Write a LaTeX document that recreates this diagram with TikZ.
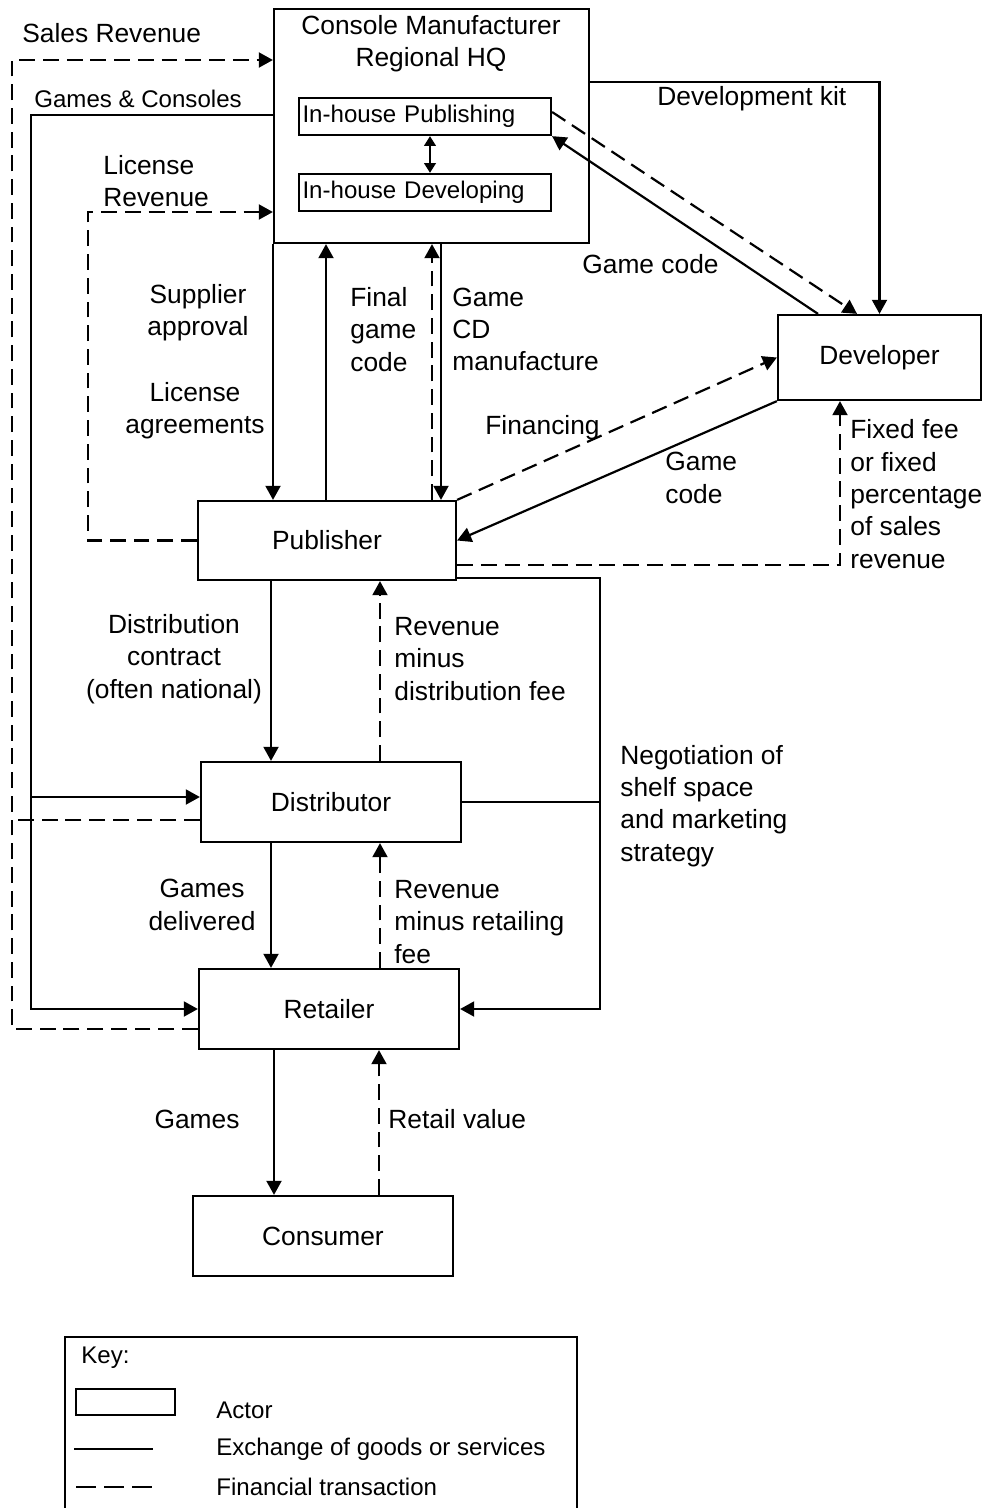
\documentclass[tikz,border=0pt]{standalone}
\usepackage{fontspec}
\setmainfont{Liberation Sans}
\usetikzlibrary{arrows.meta}
\newcommand\lblfont{\fontsize{15}{18.4}\selectfont}
\newcommand\smallfont{\fontsize{13.7}{16.5}\selectfont}
\tikzset{actor/.style={draw,line width=1.3pt,inner sep=0,font=\lblfont},lbl/.style={font=\lblfont,inner sep=0},smalllbl/.style={font=\smallfont,inner sep=0},goods/.style={line width=1.25pt},money/.style={goods,dash pattern=on 9pt off 4.5pt},arrowed/.style={-{Triangle[length=8pt,width=8.5pt]}}}

\begin{document}
\begin{tikzpicture}[x=.02cm,y=-.02cm]
\useasboundingbox (0,0) rectangle (988,1508);
\node[actor,minimum width=6.3cm,minimum height=4.68cm] (hq) at (431.5,126) {};
\node[lbl,align=center] (hqtitle) at (431,44) {Console Manufacturer\\Regional HQ};
\node[actor,font=\smallfont,text width=4.9cm,align=left,inner xsep=.07cm,minimum height=.74cm] (hqpub) at (425,116.5) {In-house Publishing};
\node[actor,font=\smallfont,text width=4.9cm,align=left,inner xsep=.07cm,minimum height=.74cm] (hqdev) at (425,192.5) {In-house Developing};
\node[actor,minimum width=4.06cm,minimum height=1.7cm] (dev) at (879.5,357.5) {Developer};
\node[actor,minimum width=5.16cm,minimum height=1.58cm] (pub) at (327,540.5) {Publisher};
\node[actor,minimum width=5.2cm,minimum height=1.6cm] (dist) at (331,802) {Distributor};
\node[actor,minimum width=5.2cm,minimum height=1.6cm] (ret) at (329,1009) {Retailer};
\node[actor,minimum width=5.2cm,minimum height=1.6cm] (cons) at (323,1236) {Consumer};
\coordinate (srail) at (12,60);
\coordinate (grail) at (31,115);
\coordinate (lrail) at (88,212);
\coordinate (nrail) at (600,578);
\node[lbl,anchor=west] (lblsales) at (22,33) {Sales Revenue};
\node[smalllbl,anchor=west] (lblgc) at (34,99) {Games \& Consoles};
\node[lbl,anchor=west,align=left] (lbllic) at (103,181) {License\\Revenue};
\node[lbl,anchor=west] (lbldk) at (657,99) {Development kit};
\node[lbl,anchor=west] (lblgcode) at (582,264) {Game code};
\node[lbl,align=center] (lblsup) at (198,313) {Supplier\\approval};
\node[lbl,align=center] (lbllag) at (195,411) {License\\agreements};
\node[lbl,anchor=west,align=left] (lblfinal) at (350,329.5) {Final\\game\\code};
\node[lbl,anchor=west,align=left] (lblcd) at (452,329.5) {Game\\CD\\manufacture};
\node[lbl,anchor=west] (lblfin) at (485,428) {Financing};
\node[lbl,anchor=west,align=left] (lblgcode2) at (665,478) {Game\\code};
\node[lbl,anchor=west,align=left] (lblfee) at (850,494) {Fixed fee\\or fixed\\percentage\\of sales\\revenue};
\node[lbl,align=center] (lbldc) at (174,659) {Distribution\\contract\\(often national)};
\node[lbl,anchor=west,align=left] (lblrev1) at (394,659) {Revenue\\minus\\distribution fee};
\node[lbl,anchor=west,align=left] (lblneg) at (620,806) {Negotiation of\\shelf space\\and marketing\\strategy};
\node[lbl,align=center] (lblgd) at (202,905) {Games\\delivered};
\node[lbl,anchor=west,align=left] (lblrev2) at (394,922) {Revenue\\minus retailing\\fee};
\node[lbl] (lblgames) at (197,1119) {Games};
\node[lbl,anchor=west] (lblretail) at (388,1119) {Retail value};
\draw[money,arrowed] (ret.west |- 0,1029) -| (srail) -- (hq.west |- srail);
\draw[money] (dist.west |- 0,820) -- (srail |- 0,820);
\draw[goods,arrowed] (hq.west |- grail) -- (grail) |- (ret.west);
\draw[goods,arrowed] (grail |- 0,797) -- (dist.west |- 0,797);
\draw[money,arrowed] (pub.west) -| (lrail) -- (hq.west |- lrail);
\draw[goods,{Triangle[length=5.5pt,width=6.5pt]}-{Triangle[length=5.5pt,width=6.5pt]}] (hqpub.south -| 430,0) -- (hqdev.north -| 430,0);
\draw[goods,arrowed] (hq.east |- 0,82) -| (dev.north);
\draw[goods,arrowed] (dev.north -| 818,0) -- (hqpub.south east);
\draw[money,arrowed] (hqpub.east |- 0,112) -- (dev.north -| 857,0);
\draw[goods,arrowed] (hq.south -| 273,0) -- (pub.north -| 273,0);
\draw[goods,arrowed] (pub.north -| 326,0) -- (hq.south -| 326,0);
\draw[money,arrowed] (pub.north -| 432,0) -- (hq.south -| 432,0);
\draw[goods,arrowed] (hq.south -| 441,0) -- (pub.north -| 441,0);
\draw[money,arrowed] (pub.north east) -- (dev.west);
\draw[goods,arrowed] (dev.south west) -- (pub.east);
\draw[money,arrowed] (pub.east |- 0,565) -| (dev.south -| 840,0);
\draw[goods,arrowed] (pub.east |- nrail) -- (nrail) |- (ret.east);
\draw[goods] (dist.east) -- (nrail |- dist.east);
\draw[goods,arrowed] (pub.south -| 271,0) -- (dist.north -| 271,0);
\draw[money,arrowed] (dist.north -| 380,0) -- (pub.south -| 380,0);
\draw[goods,arrowed] (dist.south -| 271,0) -- (ret.north -| 271,0);
\draw[money,arrowed] (ret.north -| 380,0) -- (dist.south -| 380,0);
\draw[goods,arrowed] (ret.south -| 274,0) -- (cons.north -| 274,0);
\draw[money,arrowed] (cons.north -| 379,0) -- (ret.south -| 379,0);
\draw[goods] (65,1508) |- (577,1337) -- (577,1508);
\node[smalllbl,anchor=west] (keyhd) at (81,1358) {Key:};
\node[actor,minimum width=1.98cm,minimum height=.52cm] (keyactor) at (125.5,1402) {};
\node[smalllbl,anchor=west] (keyactortxt) at (216,1410) {Actor};
\draw[goods] (74,1449) -- (153,1449);
\node[smalllbl,anchor=west] (keygoods) at (216,1449) {Exchange of goods or services};
\draw[goods,dash pattern=on 11.5pt off 4.5pt] (76,1487) -- (156,1487);
\node[smalllbl,anchor=west] (keymoney) at (216,1487) {Financial transaction};
\end{tikzpicture}
\end{document}
